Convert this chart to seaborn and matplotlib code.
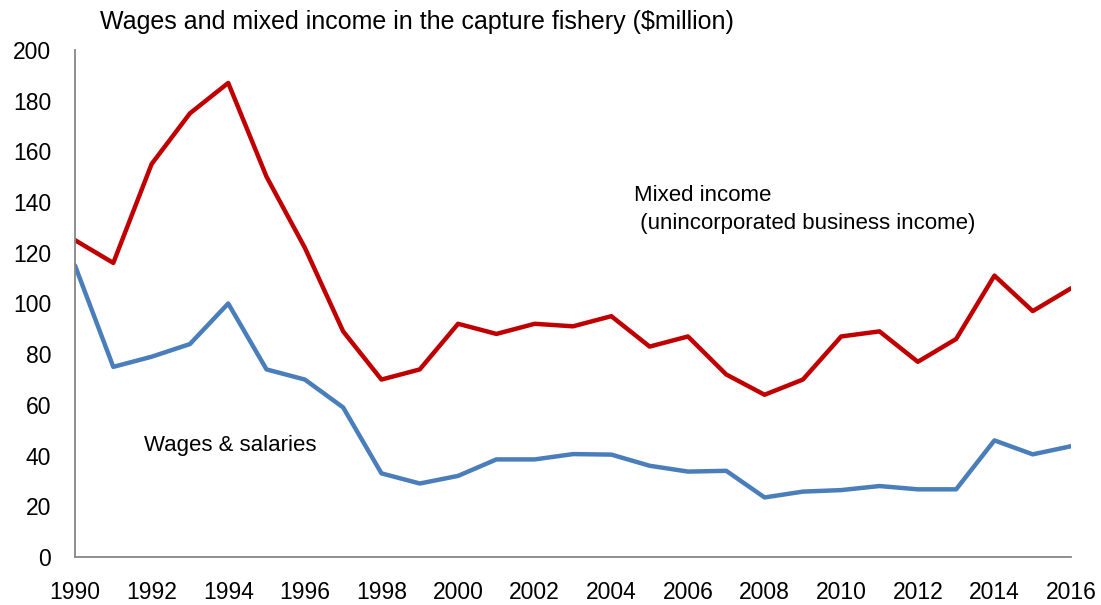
import numpy as np
import pandas as pd
import matplotlib
matplotlib.use("Agg")
import matplotlib.pyplot as plt
import seaborn as sns

years = list(range(1990, 2017))
mixed_income = [125, 116, 155, 175, 187, 150, 122, 89, 70, 74,
                92, 88, 92, 91, 95, 83, 87, 72, 64, 70,
                87, 89, 77, 86, 111, 97, 106]
wages_salaries = [115, 75, 79, 84, 100, 74, 70, 59, 33, 29,
                  32, 38.5, 38.5, 40.6, 40.4, 36, 33.7, 34, 23.5, 25.8,
                  26.4, 28, 26.7, 26.7, 46, 40.5, 43.7]
series_names = ["Mixed income", "Wages & salaries"]
series_colors = ["#C00000", "#4A7EBB"]

df = pd.DataFrame({
    "year": years * 2,
    "value": mixed_income + wages_salaries,
    "series": [series_names[0]] * len(years) + [series_names[1]] * len(years),
})

sns.set_theme(style="white")
plt.rcParams["font.family"] = ["Liberation Sans", "DejaVu Sans"]

fig = plt.figure(figsize=(11.01, 6.05), dpi=100)
ax = fig.add_axes([0.0681, 0.0793, 0.9047, 0.8381])

sns.lineplot(data=df, x="year", y="value", hue="series",
             palette=dict(zip(series_names, series_colors)),
             linewidth=3.2, legend=False, ax=ax)

ax.set_xlim(1990, 2016)
ax.set_ylim(0, 200)
ax.set_xticks(range(1990, 2017, 2))
ax.set_yticks(range(0, 201, 20))
ax.set_xlabel("")
ax.set_ylabel("")

for side in ["top", "right"]:
    ax.spines[side].set_visible(False)
for side in ["left", "bottom"]:
    ax.spines[side].set_color("#868686")
    ax.spines[side].set_linewidth(1.3)
ax.tick_params(axis="both", which="major", direction="out", length=6,
               width=1.3, color="#868686", labelsize=16.5, labelcolor="black")
ax.tick_params(axis="x", pad=11)
ax.tick_params(axis="y", pad=11)

fig.text(100 / 1101, 1 - 22 / 605, "Wages and mixed income in the capture fishery ($million)",
         fontsize=18, va="center", ha="left", color="black")
ax.text(2004.6, 137, "Mixed income\n (unincorporated business income)",
        fontsize=16, va="center", ha="left", color="black", linespacing=1.45)
ax.text(1991.8, 44, "Wages & salaries", fontsize=16, va="center",
        ha="left", color="black")

fig.savefig("out.png", dpi=100)
